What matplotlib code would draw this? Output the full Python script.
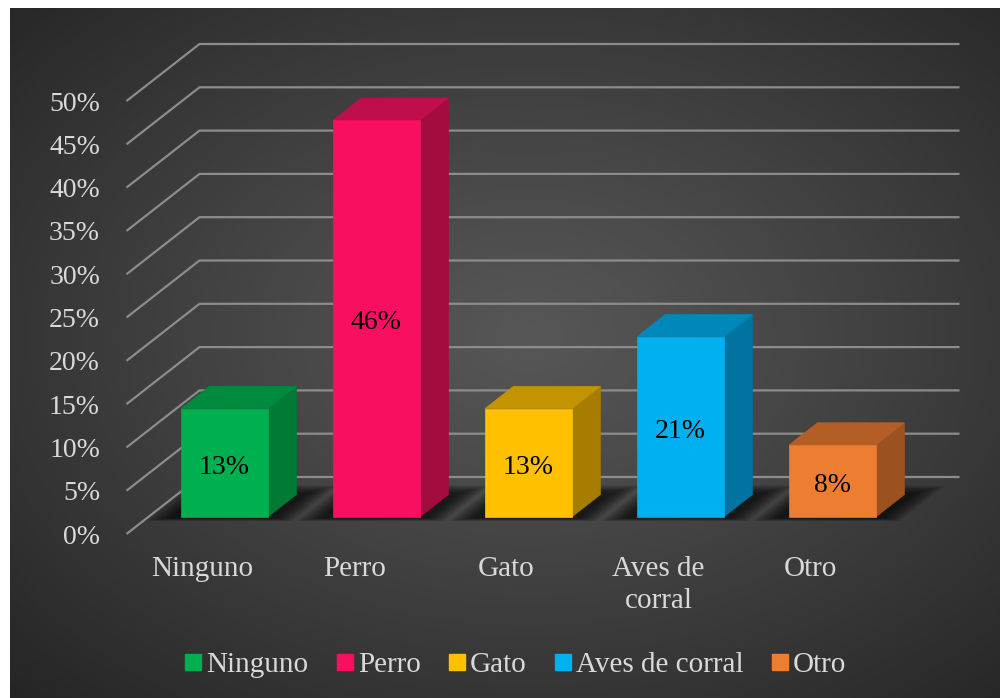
import numpy as np
import matplotlib.pyplot as plt
from matplotlib.patches import Polygon
from matplotlib.lines import Line2D

# Datos
categorias = ['Ninguno', 'Perro', 'Gato', 'Aves de corral', 'Otro']
etiquetas_eje = ['Ninguno', 'Perro', 'Gato', 'Aves de\ncorral', 'Otro']
porcentajes = [12.5, 45.8, 12.5, 20.8, 8.3]
etiquetas_valor = ['13%', '46%', '13%', '21%', '8%']
ticks_y = [0, 5, 10, 15, 20, 25, 30, 35, 40, 45, 50]

# Colores (frente, lado, techo)
colores_frente = ['#00B050', '#F90F62', '#FFC000', '#00B0F0', '#ED7D31']
colores_lado = ['#007A35', '#A30C3E', '#A67D00', '#0073A0', '#9B5220']
colores_arriba = ['#008A3E', '#BE0E4C', '#C49300', '#0088BA', '#B45E25']
gris_texto = '#d9d9d9'

plt.rcParams['font.family'] = ['Liberation Serif', 'DejaVu Serif']

W, H = 1000, 698
fig = plt.figure(figsize=(W / 100, H / 100), dpi=100, facecolor='white')

# Fondo con degradado radial
bg = fig.add_axes([10 / W, 0, 1 - 10 / W, 1 - 8 / H])
yy, xx = np.mgrid[-1:1:300j, -1:1:420j]
r = np.sqrt((xx - 0.05) ** 2 + (yy + 0.05) ** 2) / 1.45
val = np.clip(0.34 - 0.19 * r ** 1.1, 0, 1)
bg.imshow(np.dstack([val, val, val]), aspect='auto', extent=(0, 1, 0, 1))
bg.axis('off')

# Ejes principales: x en categorias, y en porcentaje
PX_CAT, PX_PCT = 152.0, 8.66
X0, Y0 = 202.5, 534.0
ax = fig.add_axes([0, 0, 1, 1])
ax.set_xlim((0 - X0) / PX_CAT, (W - X0) / PX_CAT)
ax.set_ylim((Y0 - H) / PX_PCT, Y0 / PX_PCT)
ax.axis('off')
ax.patch.set_alpha(0)

DX, DY = 73 / PX_CAT, 57 / PX_PCT  # profundidad


def proy(x, v, d):
    return (x + d * DX, v + d * DY)


# Cuadricula
x_ini, x_fin = -0.5, len(categorias) - 0.5
for t in ticks_y:
    p0 = proy(x_ini, t, 0)
    p1 = proy(x_ini, t, 1)
    p2 = proy(x_fin, t, 1)
    ax.plot([p0[0], p1[0], p2[0]], [p0[1], p1[1], p2[1]],
            color='#8c8c8c', lw=1.6, zorder=1, solid_capstyle='butt')
    ax.text((100 - X0) / PX_CAT, t - 0.35, f'{t}%', ha='right', va='center',
            color=gris_texto, fontsize=20)

hw = 43.5 / PX_CAT
d0, d1 = 0.3, 0.69

for i, v in enumerate(porcentajes):
    # sombra difusa detras de la barra
    n = 16
    for k in range(n):
        e = 0.009 * (n - k)
        sx0, sx1 = i - hw - 0.06 - e, i + hw + 0.05 + e
        sd0, sd1 = d0 - 0.02 - 0.35 * e, d1 + 0.02 + e
        pts = [proy(sx0, 0, sd0), proy(sx1, 0, sd0),
               proy(sx1, 0, sd1), proy(sx0, 0, sd1)]
        ax.add_patch(Polygon(pts, closed=True, facecolor='black',
                             edgecolor='none', alpha=0.05, zorder=2))

    frente = [proy(i - hw, 0, d0), proy(i + hw, 0, d0),
              proy(i + hw, v, d0), proy(i - hw, v, d0)]
    lado = [proy(i + hw, 0, d0), proy(i + hw, 0, d1),
            proy(i + hw, v, d1), proy(i + hw, v, d0)]
    techo = [proy(i - hw, v, d0), proy(i + hw, v, d0),
             proy(i + hw, v, d1), proy(i - hw, v, d1)]
    ax.add_patch(Polygon(lado, closed=True, facecolor=colores_lado[i],
                         edgecolor=colores_lado[i], lw=0.5, zorder=3))
    ax.add_patch(Polygon(techo, closed=True, facecolor=colores_arriba[i],
                         edgecolor=colores_arriba[i], lw=0.5, zorder=3))
    ax.add_patch(Polygon(frente, closed=True, facecolor=colores_frente[i],
                         edgecolor=colores_frente[i], lw=0.5, zorder=4))

    cx, cy = proy(i, v / 2, d0)
    ax.text(cx, cy - 0.5, etiquetas_valor[i], ha='center', va='center',
            color='black', fontsize=20, zorder=5)

    ax.text(i, (Y0 - 556) / PX_PCT, etiquetas_eje[i], ha='center', va='top',
            color=gris_texto, fontsize=21, linespacing=1.3)

# Leyenda
handles = [Line2D([], [], ls='none', marker='s', markersize=11,
                  markerfacecolor=c, markeredgecolor=c) for c in colores_frente]
fig.legend(handles, categorias, loc='center', bbox_to_anchor=(0.516, 1 - 665 / H),
           ncol=5, frameon=False, fontsize=21, labelcolor=gris_texto,
           handlelength=0.52, handletextpad=0.2, columnspacing=0.97)

fig.savefig('out.png', dpi=100, facecolor='white')
